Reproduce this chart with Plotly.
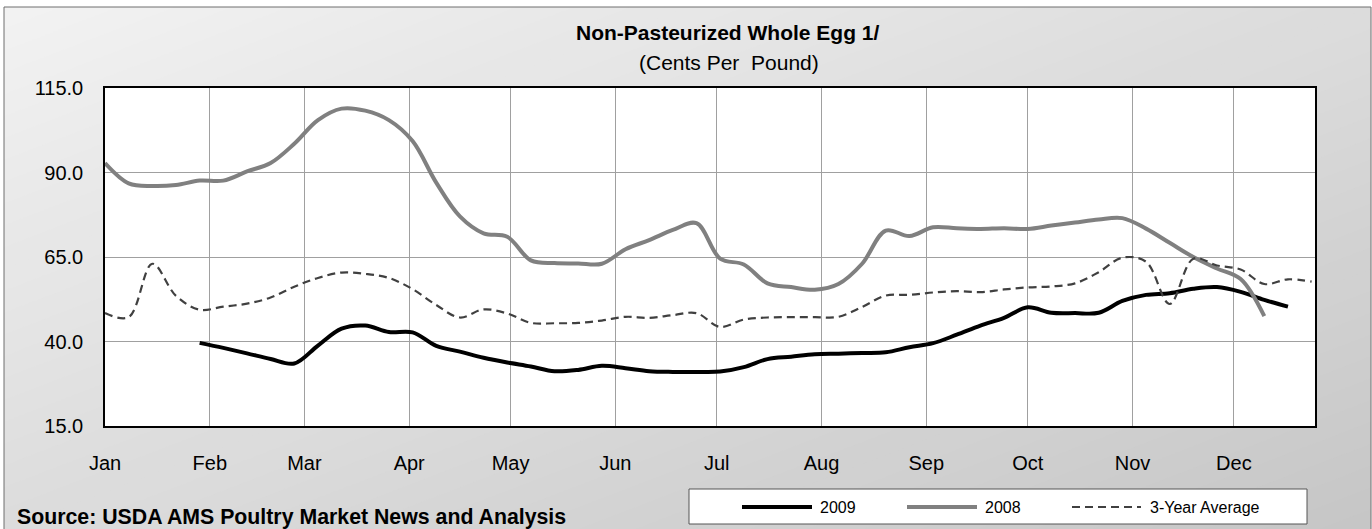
import pandas as pd
import plotly.graph_objects as go

# weekly points, all years drawn on a common Jan-Dec axis
weeks = pd.date_range("2009-01-01", periods=52, freq="7D")

egg_2009 = [None] * 4 + [
    39.6, 38.1, 36.5, 34.8, 33.5, 38.8, 43.8, 44.7, 42.8, 42.7,
    38.7, 37.0, 35.2, 33.8, 32.6, 31.2, 31.6, 32.8, 32.1, 31.2,
    31.0, 31.0, 31.1, 32.4, 34.8, 35.5, 36.2, 36.4, 36.6, 36.8,
    38.3, 39.5, 42.0, 44.7, 47.0, 50.1, 48.5, 48.4, 48.5, 52.0,
    53.8, 54.3, 55.6, 56.1, 54.7, 52.3, 50.3] + [None]

egg_2008 = [
    92.8, 86.8, 86.0, 86.3, 87.6, 87.6, 90.3, 92.8, 98.5, 105.5,
    108.9, 108.3, 105.5, 99.3, 87.0, 77.0, 72.0, 71.0, 64.0, 63.2,
    63.1, 63.0, 67.3, 70.0, 73.0, 75.0, 64.5, 62.8, 57.2, 56.1,
    55.3, 57.0, 63.0, 72.8, 71.2, 73.8, 73.5, 73.3, 73.5, 73.3,
    74.3, 75.2, 76.1, 76.5, 73.4, 69.2, 65.0, 61.6, 58.5, 47.5] + [None] * 2

avg_3yr = [
    48.4, 47.2, 63.0, 53.5, 49.4, 50.3, 51.2, 53.0, 56.2, 58.8,
    60.4, 60.0, 58.8, 55.5, 50.8, 47.1, 49.5, 48.3, 45.5, 45.4,
    45.5, 46.2, 47.3, 47.0, 47.8, 48.4, 44.3, 46.5, 47.1, 47.2,
    47.2, 47.3, 50.2, 53.6, 53.8, 54.5, 54.9, 54.6, 55.4, 56.0,
    56.3, 57.2, 60.5, 64.8, 63.6, 51.1, 64.5, 62.5, 61.3, 57.0,
    58.4, 57.7]

series_names = ["2009", "2008", "3-Year Average"]
x_range = ["2009-01-01", "2009-12-25"]
y_ticks = [15, 40, 65, 90, 115]

FONT = "Arial, Liberation Sans, sans-serif"
W, H = 1372, 529
L, R, T, B = 105, 1315, 88, 426


def px(x):
    return (x - L) / (R - L)


def py(y):
    return (B - y) / (B - T)


def band(lo, hi):
    # part of the unit square where lo <= u + v <= hi
    pts = [(0, 0), (1, 0), (1, 1), (0, 1)]
    for c, s in ((lo, 1), (hi, -1)):
        out = []
        for i in range(len(pts)):
            p, q = pts[i - 1], pts[i]
            fp, fq = s * (p[0] + p[1] - c), s * (q[0] + q[1] - c)
            if fq >= 0:
                if fp < 0:
                    t = fp / (fp - fq)
                    out.append((p[0] + t * (q[0] - p[0]), p[1] + t * (q[1] - p[1])))
                out.append(q)
            elif fp >= 0:
                t = fp / (fp - fq)
                out.append((p[0] + t * (q[0] - p[0]), p[1] + t * (q[1] - p[1])))
        pts = out
    return pts


fig = go.Figure()
fig.add_trace(go.Scatter(x=weeks, y=egg_2009, name=series_names[0], mode="lines",
                         line=dict(color="black", width=4, shape="spline")))
fig.add_trace(go.Scatter(x=weeks, y=egg_2008, name=series_names[1], mode="lines",
                         line=dict(color="#808080", width=4, shape="spline")))
fig.add_trace(go.Scatter(x=weeks, y=avg_3yr, name=series_names[2], mode="lines",
                         line=dict(color="#404040", width=2.2, shape="spline", dash="8px,5px")))

shapes = []
# diagonal grey gradient for the chart frame
FX0, FY0, FX1, FY1 = 4, 7, 1371, 531
n = 48
for i in range(n):
    lo, hi = 2 * i / n, min(2.0, 2 * (i + 1) / n + 0.01)
    poly = band(lo, hi)
    if len(poly) < 3:
        continue
    g = round(242 - 44 * (i + 0.5) / n)
    path = "M" + " L".join(
        f"{px(FX0 + u * (FX1 - FX0)):.5f},{py(FY0 + v * (FY1 - FY0)):.5f}" for u, v in poly) + " Z"
    shapes.append(dict(type="path", xref="paper", yref="paper", path=path, layer="below",
                       fillcolor=f"rgb({g},{g},{g})", line=dict(width=0)))
shapes.append(dict(type="rect", xref="paper", yref="paper", layer="below",
                   x0=px(FX0), x1=px(FX1), y0=py(FY1), y1=py(FY0),
                   line=dict(color="#6f6f6f", width=1)))
# white plot area
shapes.append(dict(type="rect", xref="x", yref="y", layer="below",
                   x0=x_range[0], x1=x_range[1], y0=y_ticks[0], y1=y_ticks[-1],
                   fillcolor="white", line=dict(width=0)))

# legend box drawn by hand (long line samples)
shapes.append(dict(type="rect", xref="paper", yref="paper", layer="below",
                   x0=px(689), x1=px(1307), y0=py(524), y1=py(489),
                   fillcolor="white", line=dict(color="#555555", width=1)))
legend_items = [
    (742, 812, 818, dict(color="black", width=4)),
    (907, 977, 983, dict(color="#808080", width=4)),
    (1072, 1141, 1148, dict(color="#404040", width=2.2, dash="8px,5px")),
]
annotations = []
for (a, b, tx, ln), name in zip(legend_items, series_names):
    shapes.append(dict(type="line", xref="paper", yref="paper", layer="above",
                       x0=px(a), x1=px(b), y0=py(507), y1=py(507), line=ln))
    annotations.append(dict(text=name, xref="paper", yref="paper", x=px(tx), y=py(507),
                            xanchor="left", yanchor="middle", showarrow=False,
                            font=dict(size=16, color="black", family=FONT)))

annotations += [
    dict(text="<b>Non-Pasteurized Whole Egg 1/</b>", xref="paper", yref="paper",
         x=px(728), y=py(33), xanchor="center", yanchor="middle", showarrow=False,
         font=dict(size=21, color="black", family=FONT)),
    dict(text="(Cents Per  Pound)", xref="paper", yref="paper",
         x=px(729), y=py(62), xanchor="center", yanchor="middle", showarrow=False,
         font=dict(size=21, color="black", family=FONT)),
    dict(text="<b>Source: USDA AMS Poultry Market News and Analysis</b>", xref="paper", yref="paper",
         x=px(15), y=py(517), xanchor="left", yanchor="middle", showarrow=False,
         font=dict(size=21.3, color="black", family=FONT)),
]

fig.update_layout(
    width=W, height=H,
    margin=dict(l=L, r=W - R, t=T, b=H - B),
    paper_bgcolor="white", plot_bgcolor="rgba(0,0,0,0)",
    showlegend=False,
    shapes=shapes, annotations=annotations,
    font=dict(family=FONT, size=20, color="black"),
)
fig.update_xaxes(type="date", range=x_range, dtick="M1", tick0="2009-01-01", tickformat="%b",
                 showgrid=True, gridcolor="#a0a0a0", gridwidth=1,
                 showline=True, linecolor="black", linewidth=1.5, mirror=True,
                 ticks="", ticklabelstandoff=18, tickfont=dict(size=20))
fig.update_yaxes(range=[y_ticks[0], y_ticks[-1]], tickvals=y_ticks, tickformat=".1f",
                 showgrid=True, gridcolor="#a0a0a0", gridwidth=1, zeroline=False,
                 showline=True, linecolor="black", linewidth=1.5, mirror=True,
                 ticks="", ticklabelstandoff=16, tickfont=dict(size=20))

fig.write_html("out.html", config={"displayModeBar": False},
               post_script="document.body.style.margin='0';")
